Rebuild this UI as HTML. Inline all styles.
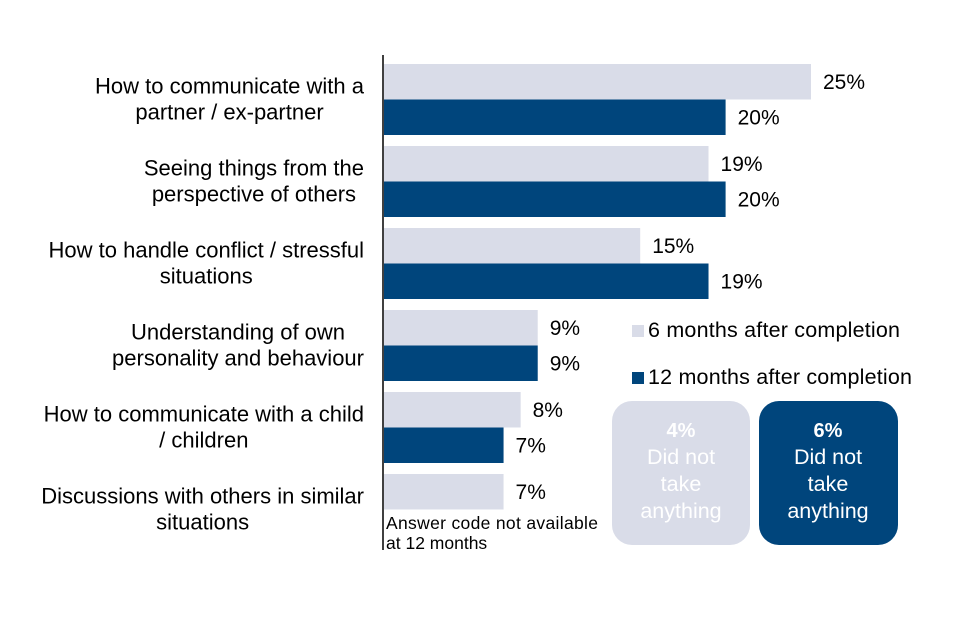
<!DOCTYPE html>
<html><head><meta charset="utf-8"><style>
body{margin:0;background:#fff;}
svg{display:block;font-family:"Liberation Sans",Arial,sans-serif;}
</style></head><body>
<svg id="chart" width="960" height="640" viewBox="0 0 960 640">
<g id="bars"></g>
<line x1="383" y1="55" x2="383" y2="550" stroke="#000" stroke-width="1.5"/>
<text x="386" y="529" font-size="17.5" fill="#000" textLength="212">Answer code not available</text>
<text x="386" y="549" font-size="17.5" fill="#000">at 12 months</text>
<rect x="632" y="325" width="12" height="12" fill="#d9dce8"/>
<text x="648" y="337" font-size="21.5" fill="#000" textLength="252">6 months after completion</text>
<rect x="632" y="372" width="12" height="12" fill="#00457c"/>
<text x="648" y="384" font-size="21.5" fill="#000" textLength="264">12 months after completion</text>
<rect x="612" y="401" width="138" height="144" rx="20" fill="#d9dce8"/>
<text x="681" y="437" font-size="20" font-weight="bold" fill="#fff" text-anchor="middle">4%</text>
<text x="681" y="464" font-size="21.5" fill="#fff" text-anchor="middle">Did not</text>
<text x="681" y="491" font-size="21.5" fill="#fff" text-anchor="middle">take</text>
<text x="681" y="518" font-size="21.5" fill="#fff" text-anchor="middle">anything</text>
<rect x="759" y="401" width="139" height="144" rx="20" fill="#00457c"/>
<text x="828" y="437" font-size="20" font-weight="bold" fill="#fff" text-anchor="middle">6%</text>
<text x="828" y="464" font-size="21.5" fill="#fff" text-anchor="middle">Did not</text>
<text x="828" y="491" font-size="21.5" fill="#fff" text-anchor="middle">take</text>
<text x="828" y="518" font-size="21.5" fill="#fff" text-anchor="middle">anything</text>
</svg>
<script>
const categories=[["How to communicate with a","partner / ex-partner"],["Seeing things from the","perspective of others"],["How to handle conflict / stressful","situations"],["Understanding of own","personality and behaviour"],["How to communicate with a child","/ children"],["Discussions with others in similar","situations"]];
const sixMonths=[25,19,15,9,8,7];
const twelveMonths=[20,20,19,9,7,null];
const NS="http://www.w3.org/2000/svg";
const g=document.getElementById('bars');
const x0=384, pxPer=17.08, top0=64, pitch=82, bh=35.5;
function xs(v){return x0+v*pxPer;}
function el(t,a){const e=document.createElementNS(NS,t);for(const k in a)e.setAttribute(k,a[k]);g.appendChild(e);return e;}
categories.forEach((c,i)=>{
  const y=top0+i*pitch;
  const series=[[sixMonths[i],'#d9dce8','six'],[twelveMonths[i],'#00457c','twelve']];
  series.forEach((s,j)=>{
    if(s[0]==null)return;
    const by=y+j*bh;
    const r=el('rect',{x:x0,y:by,width:xs(s[0])-x0,height:bh,fill:s[1]});
    
    
    const t=el('text',{x:xs(s[0])+12,y:by+bh/2+7,'font-size':21,fill:'#000'});
    t.textContent=s[0]+'%';
    
    
  });
  const cy=y+bh;
  const texts=c.map((line,k)=>{
    const t=el('text',{x:364,y:cy-13+7+k*26,'font-size':22,fill:'#000','text-anchor':'middle'});
    t.textContent=line;
    
    
    return t;
  });
  const maxW=Math.max(...texts.map(t=>t.getComputedTextLength()));
  texts.forEach(t=>t.setAttribute('x',364-maxW/2));
});
</script>
</body></html>
